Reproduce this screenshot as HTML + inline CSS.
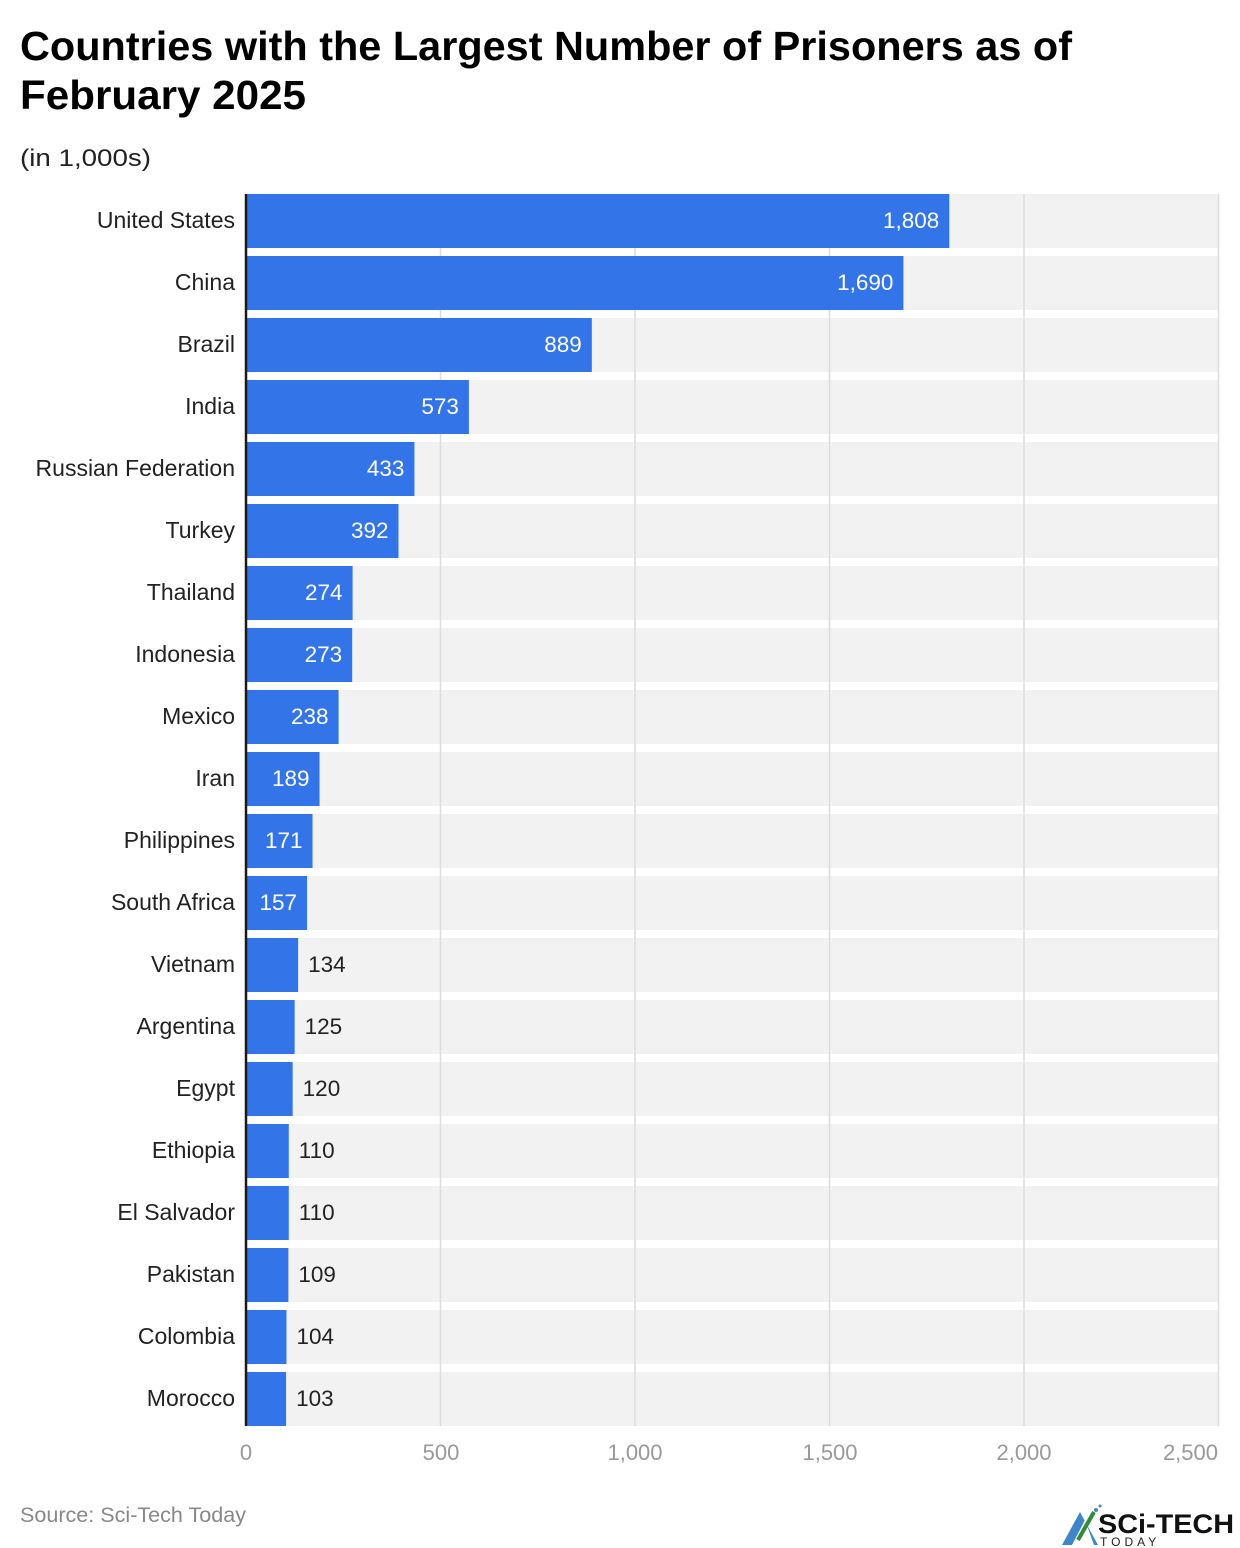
<!DOCTYPE html>
<html><head><meta charset="utf-8"><style>
html,body{margin:0;padding:0;background:#fff;}
svg{display:block;font-family:"Liberation Sans",Arial,sans-serif;}
</style></head><body>
<svg width="1240" height="1548" viewBox="0 0 1240 1548" xmlns="http://www.w3.org/2000/svg">
<text x="20" y="60" font-size="41" font-weight="bold" fill="#000" textLength="1052" lengthAdjust="spacingAndGlyphs">Countries with the Largest Number of Prisoners as of</text>
<text x="20" y="109" font-size="41" font-weight="bold" fill="#000" textLength="286" lengthAdjust="spacingAndGlyphs">February 2025</text>
<text x="20" y="166" font-size="24" fill="#222" textLength="131" lengthAdjust="spacingAndGlyphs">(in 1,000s)</text>
<g id="bands"></g>
<g id="grid"></g>
<g id="bars"></g>
<line x1="246" y1="194" x2="246" y2="1426" stroke="#1a1a1a" stroke-width="2.5"/>
<g font-size="22" fill="#999" text-anchor="middle">
<text x="246" y="1460">0</text>
<text x="441" y="1460">500</text>
<text x="635" y="1460">1,000</text>
<text x="830" y="1460">1,500</text>
<text x="1024" y="1460">2,000</text>
<text x="1218" y="1460" text-anchor="end">2,500</text>
</g>
<text x="20" y="1522" font-size="21" fill="#888" textLength="226" lengthAdjust="spacingAndGlyphs">Source: Sci-Tech Today</text>
<g>
<polygon points="1062,1545 1080,1512 1098,1545" fill="#3f86c8"/>
<polygon points="1072,1545 1085,1520 1094,1545" fill="#fff"/>
<line x1="1078" y1="1540" x2="1094" y2="1512" stroke="#2e8b3a" stroke-width="4"/>
<circle cx="1096" cy="1510" r="2" fill="#3f86c8"/><circle cx="1100" cy="1506" r="1.5" fill="#3f86c8"/>
<text x="1098" y="1533" font-size="27" font-weight="bold" fill="#111" textLength="136" lengthAdjust="spacingAndGlyphs">SCi-TECH</text>
<text x="1100" y="1546" font-size="12" fill="#222" letter-spacing="4">TODAY</text>
</g>
<script>
var d=[["United States",1808],["China",1690],["Brazil",889],["India",573],["Russian Federation",433],["Turkey",392],["Thailand",274],["Indonesia",273],["Mexico",238],["Iran",189],["Philippines",171],["South Africa",157],["Vietnam",134],["Argentina",125],["Egypt",120],["Ethiopia",110],["El Salvador",110],["Pakistan",109],["Colombia",104],["Morocco",103]];
var ns="http://www.w3.org/2000/svg";
function el(p,t,a,txt){var e=document.createElementNS(ns,t);for(var k in a)e.setAttribute(k,a[k]);if(txt)e.textContent=txt;p.appendChild(e);return e;}
var B=document.getElementById("bands"),G=document.getElementById("grid"),R=document.getElementById("bars");
var s=0.389;
d.forEach(function(r,i){
 var y=194+i*62;
 el(B,"rect",{x:246,y:y,width:973,height:54,fill:"#f2f2f2"});
 var w=r[1]*s,x2=246+w;
 el(R,"rect",{x:247,y:y,width:w-1,height:54,fill:"#3375e8"});
 var v=r[1].toLocaleString("en-US");
 el(R,"text",{x:235,y:y+34,"font-size":23,fill:"#222","text-anchor":"end"},r[0]);
 if(w>58) el(R,"text",{x:x2-10,y:y+34,"font-size":22.5,fill:"#fff","text-anchor":"end"},v);
 else el(R,"text",{x:x2+10,y:y+34,"font-size":22.5,fill:"#222"},v);
});
[500,1000,1500,2000,2500].forEach(function(t){var x=246+t*s;el(G,"line",{x1:x,y1:194,x2:x,y2:1426,stroke:"#dcdcdc","stroke-width":1.5});});
</script>
</svg>
</body></html>
